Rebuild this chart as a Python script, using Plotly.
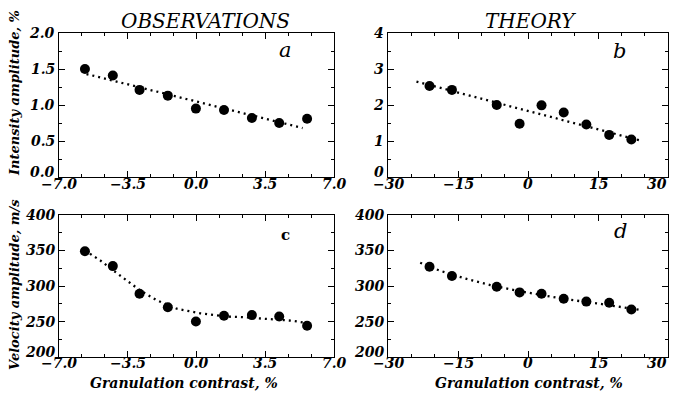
import plotly.graph_objects as go

# ---------------- data ----------------
obs_contrast = [-5.68, -4.26, -2.90, -1.46, -0.03, 1.40, 2.82, 4.21, 5.63]
obs_intensity = [1.50, 1.41, 1.21, 1.13, 0.95, 0.93, 0.82, 0.75, 0.81]
obs_velocity = [349, 328, 289, 270, 250, 258, 259, 257, 244]

obs_int_fit_x = [-5.6, 0.0, 5.4]
obs_int_fit_y = [1.43, 1.05, 0.68]

obs_vel_fit_x = [-5.68, -4.9, -4.24, -3.55, -2.88, -2.03, -1.0, 0.2, 1.5, 2.4, 3.6, 4.9, 5.7]
obs_vel_fit_y = [350, 336, 322, 308, 294, 280, 268, 261.5, 257, 256, 254, 251, 247.5]

th_contrast = [-21.1, -16.3, -6.7, -1.8, 2.9, 7.65, 12.5, 17.4, 22.15]
th_intensity = [2.53, 2.42, 2.00, 1.48, 1.99, 1.79, 1.46, 1.17, 1.04]
th_velocity = [327, 314, 299, 291, 289, 282, 278, 276.5, 267]

th_int_fit_x = [-23.9, 0.0, 23.9]
th_int_fit_y = [2.65, 1.84, 1.02]

th_vel_fit_x = [-23.1, -18.9, -13.1, -8.1, -2.4, 2.6, 8.3, 14.7, 20.4, 24.1]
th_vel_fit_y = [332.8, 321.6, 309.9, 301.4, 293.4, 287.3, 281.2, 275.6, 270, 266.2]

# tick values and labels
obs_x_ticks = [-7.0, -3.5, 0.0, 3.5, 7.0]
obs_x_labels = ["\u22127.0", "\u22123.5", "0.0", "3.5", "7.0"]
th_x_ticks = [-30, -15, 0, 15, 30]
th_x_labels = ["\u221230", "\u221215", "0", "15", "30"]
obs_int_ticks = [0.0, 0.5, 1.0, 1.5, 2.0]
obs_int_labels = ["0.0", "0.5", "1.0", "1.5", "2.0"]
th_int_ticks = [0, 1, 2, 3, 4]
th_int_labels = ["0", "1", "2", "3", "4"]
vel_ticks = [200, 250, 300, 350, 400]
vel_labels = ["200", "250", "300", "350", "400"]

col_titles = ["OBSERVATIONS", "THEORY"]
panel_letters = ["a", "b", "c", "d"]
y_titles = ["Intensity amplitude, %", "Velocity amplitude, m/s"]
x_title = "Granulation contrast, %"

# ---------------- figure ----------------
# the page body has an 8px margin, so the figure is made 8px smaller and all
# layout pixel positions (measured on the 677x395 reference) are shifted by 8px
OFF = 8
W, H = 677 - OFF, 395 - OFF
FONT = "DejaVu Serif"


def px_x(p):
    return (p - OFF) / W


def px_y(p):
    return 1 - (p - OFF) / H


fig = go.Figure()

panels = [
    ("x", "y", obs_contrast, obs_intensity, obs_int_fit_x, obs_int_fit_y),
    ("x2", "y2", th_contrast, th_intensity, th_int_fit_x, th_int_fit_y),
    ("x3", "y3", obs_contrast, obs_velocity, obs_vel_fit_x, obs_vel_fit_y),
    ("x4", "y4", th_contrast, th_velocity, th_vel_fit_x, th_vel_fit_y),
]

for xa, ya, xs, ys, fx, fy in panels:
    fig.add_trace(go.Scatter(x=fx, y=fy, mode="lines", xaxis=xa, yaxis=ya,
                             line=dict(color="black", width=2.3, dash="2px,4px"),
                             showlegend=False, hoverinfo="skip"))
    fig.add_trace(go.Scatter(x=xs, y=ys, mode="markers", xaxis=xa, yaxis=ya,
                             marker=dict(color="black", size=10),
                             showlegend=False))


def axis(domain, rng, tvals, minor_dtick, anchor):
    return dict(domain=domain, range=rng, tickmode="array", tickvals=tvals,
                showticklabels=False,
                anchor=anchor, showline=True, linecolor="black", linewidth=1.3,
                mirror="allticks", ticks="inside", ticklen=6, tickwidth=1,
                tickcolor="black", showgrid=False, zeroline=False,
                minor=dict(dtick=minor_dtick, tick0=0, ticks="inside", ticklen=3,
                           tickwidth=1, tickcolor="black", showgrid=False))


L_LEFT, L_RIGHT = 59, 334
R_LEFT, R_RIGHT = 388, 668
T_TOP, T_BOT = 33, 177
B_TOP, B_BOT = 215, 357

left_dom = [px_x(L_LEFT), px_x(L_RIGHT)]
right_dom = [px_x(R_LEFT), px_x(R_RIGHT)]
top_dom = [px_y(T_BOT), px_y(T_TOP)]
bot_dom = [px_y(B_BOT), px_y(B_TOP)]

fig.update_layout(
    width=W, height=H,
    margin=dict(l=0, r=0, t=0, b=0, autoexpand=False),
    paper_bgcolor="white", plot_bgcolor="white",
    xaxis=axis(left_dom, [-7, 7], obs_x_ticks, 3.5 / 3, "y"),
    yaxis=axis(top_dom, [0, 2], obs_int_ticks, 0.25, "x"),
    xaxis2=axis(right_dom, [-30, 30], th_x_ticks, 5, "y2"),
    yaxis2=axis(top_dom, [0, 4], th_int_ticks, 0.5, "x2"),
    xaxis3=axis(left_dom, [-7, 7], obs_x_ticks, 3.5 / 3, "y3"),
    yaxis3=axis(bot_dom, [200, 400], vel_ticks, 25, "x3"),
    xaxis4=axis(right_dom, [-30, 30], th_x_ticks, 5, "y4"),
    yaxis4=axis(bot_dom, [200, 400], vel_ticks, 25, "x4"),
)

tick_font = dict(family=FONT, size=14, color="black", weight="bold", style="italic")
ann = []

# x tick labels (placed through the x axes' own scales); the label on the
# figure's right edge is anchored inward so it is not clipped
for xref, ticks, labels, ypix in [("x", obs_x_ticks, obs_x_labels, 184),
                                  ("x2", th_x_ticks, th_x_labels, 184),
                                  ("x3", obs_x_ticks, obs_x_labels, 363),
                                  ("x4", th_x_ticks, th_x_labels, 363)]:
    for i, (v, s) in enumerate(zip(ticks, labels)):
        edge = xref in ("x2", "x4") and i == len(ticks) - 1
        ann.append(dict(text=s, x=v, xref=xref, y=px_y(ypix), yref="paper",
                        showarrow=False, xanchor="right" if edge else "center",
                        yanchor="middle", xshift=1 if edge else 0, font=tick_font))
# y tick labels (placed through the y axes' own scales); lowest one lifted a little
for yref, ticks, labels, xpix in [("y", obs_int_ticks, obs_int_labels, L_LEFT - 2),
                                  ("y2", th_int_ticks, th_int_labels, R_LEFT - 2),
                                  ("y3", vel_ticks, vel_labels, L_LEFT - 2),
                                  ("y4", vel_ticks, vel_labels, R_LEFT - 2)]:
    for i, (v, s) in enumerate(zip(ticks, labels)):
        ann.append(dict(text=s, y=v, yref=yref, x=px_x(xpix), xref="paper",
                        showarrow=False, xanchor="right", yanchor="middle",
                        yshift=5 if i == 0 else 0, font=tick_font))

for txt, cx in zip(col_titles, [205, 530]):
    ann.append(dict(text=txt, x=px_x(cx), y=px_y(21), xref="paper", yref="paper",
                    showarrow=False, xanchor="center", yanchor="middle",
                    font=dict(family=FONT, size=20, color="black", style="italic")))
letter_pos = [(285, 50), (619, 51), (285, 235), (620, 231)]
for txt, (lx, ly) in zip(panel_letters, letter_pos):
    f = dict(family=FONT, size=21, color="black", style="italic")
    if txt == "c":
        f = dict(family=FONT, size=15, color="black", weight="bold", style="normal")
    ann.append(dict(text=txt, x=px_x(lx), y=px_y(ly), xref="paper", yref="paper",
                    showarrow=False, xanchor="center", yanchor="middle", font=f))
for txt, cy in zip(y_titles, [93, 285]):
    ann.append(dict(text=txt, x=px_x(14), y=px_y(cy),
                    xref="paper", yref="paper",
                    showarrow=False, textangle=-90, xanchor="center", yanchor="middle",
                    font=dict(family=FONT, size=13, color="black", weight="bold",
                              style="italic")))
for cx in [184, 529]:
    ann.append(dict(text=x_title, x=px_x(cx), y=px_y(383),
                    xref="paper", yref="paper",
                    showarrow=False, xanchor="center", yanchor="middle",
                    font=dict(family=FONT, size=14, color="black", weight="bold",
                              style="italic")))
fig.update_layout(annotations=ann)

fig.write_html("out.html")
